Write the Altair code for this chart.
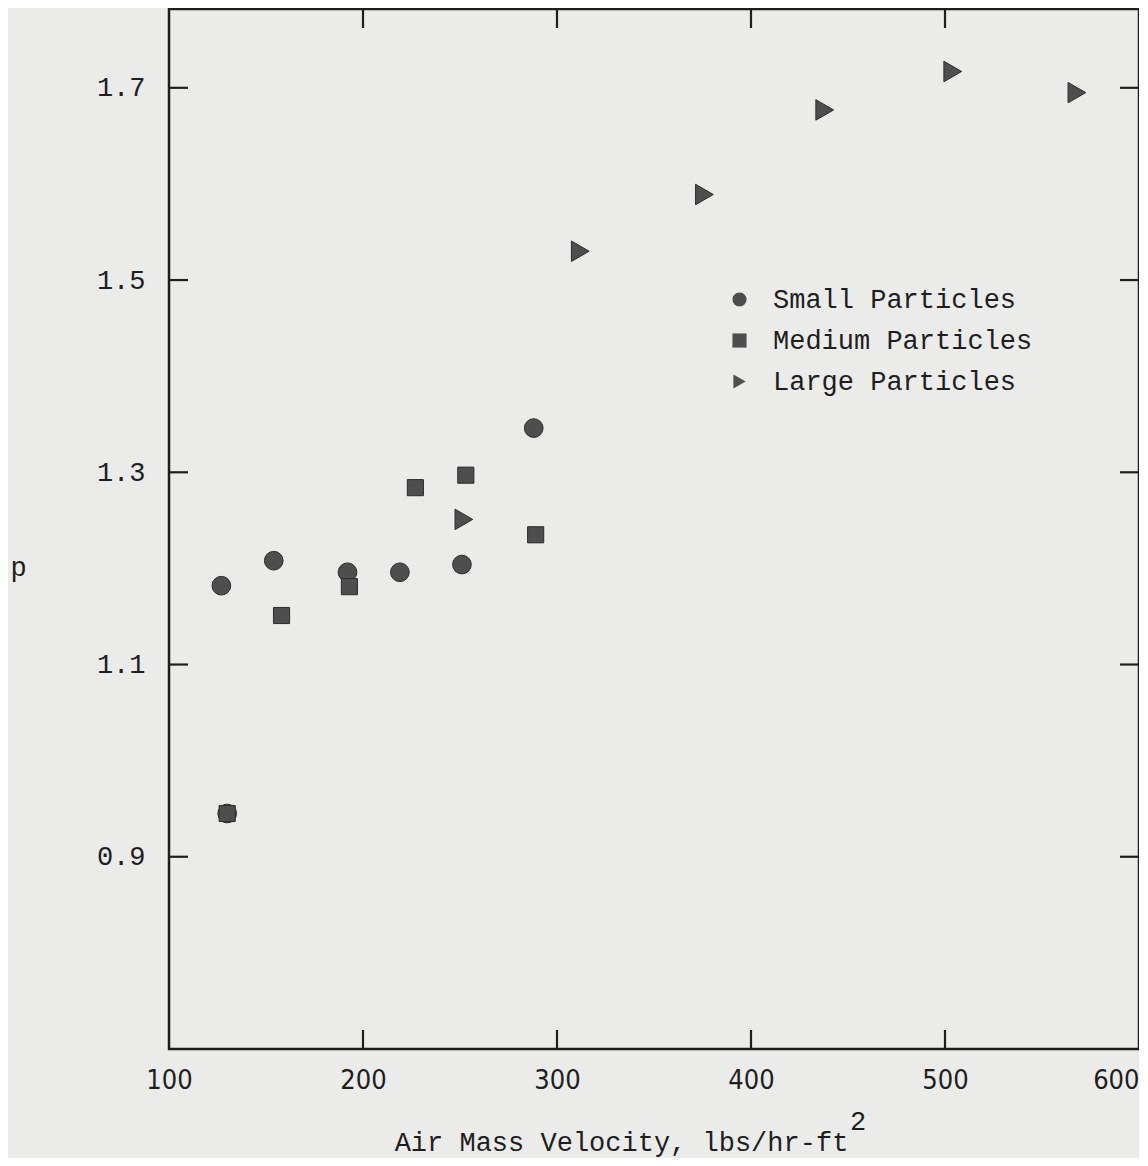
import altair as alt
import pandas as pd

# ---- data ----
categories = ["Small Particles", "Medium Particles", "Large Particles"]
small_x = [127, 130, 154, 192, 219, 251, 288]
small_y = [1.182, 0.945, 1.208, 1.196, 1.196, 1.204, 1.346]
medium_x = [130, 158, 193, 227, 253, 289]
medium_y = [0.945, 1.151, 1.181, 1.284, 1.297, 1.235]
large_x = [252, 312, 376, 438, 504, 568]
large_y = [1.251, 1.530, 1.589, 1.677, 1.717, 1.695]

x_ticks = [200, 300, 400, 500]
x_labels = [100, 200, 300, 400, 500, 600]
y_ticks = [0.9, 1.1, 1.3, 1.5, 1.7]

shapes = ["circle", "square", "triangle-right"]
sizes = [350, 260, 420]

W, H = 970, 1040
TICK = 19
MONO = "Liberation Mono, Courier New, monospace"
NARROW = "Liberation Sans Narrow, DejaVu Sans Condensed, Roboto Condensed, sans-serif"
INK = "#1e1e1e"
FILL = "#4e4e4e"
EDGE = "#2c2c2c"

xt = pd.DataFrame({"x": x_ticks})
yt = pd.DataFrame({"y": y_ticks})

xscale = alt.Scale(domain=[100, 600], nice=False, zero=False)
yscale = alt.Scale(domain=[0.7, 1.782], nice=False, zero=False)
shape_scale = alt.Scale(domain=categories, range=shapes)

xaxis = alt.Axis(
    values=x_labels, ticks=False, domain=False, grid=False, labelFlush=False,
    labelAlign={"condition": {"test": "datum.value >= 600", "value": "right"}, "value": "center"},
    labelFont=NARROW, labelFontSize=27, labelColor=INK, labelPadding=18,
    title="Air Mass Velocity, lbs/hr-ft", titleFont=MONO, titleFontSize=27,
    titleFontWeight="normal", titleColor=INK, titleX=452, titleY=101,
    titleBaseline="alphabetic", titleAlign="center", titleAnchor="start",
)
yaxis = alt.Axis(
    values=y_ticks, format=".1f", ticks=False, domain=False, grid=False,
    labelFont=MONO, labelFontSize=27, labelColor=INK, labelPadding=24,
    title="p", titleFont=MONO, titleFontSize=27, titleFontWeight="normal",
    titleColor=INK, titleAngle=0, titleX=-151, titleY=558,
    titleAlign="center", titleBaseline="middle",
)
legend = alt.Legend(
    title=None, orient="none", legendX=557, legendY=277,
    labelFont=MONO, labelFontSize=27, labelColor=INK, labelLimit=0,
    labelOffset=20, rowPadding=13, symbolSize=200,
    symbolFillColor=FILL, symbolStrokeColor=EDGE,
    symbolStrokeWidth=1, padding=0)

layers = []
tick_style = dict(color=INK, strokeWidth=2.2)
layers.append(alt.Chart(xt).mark_rule(**tick_style).encode(
    x=alt.X("x:Q", scale=xscale, axis=xaxis), y=alt.value(H), y2=alt.value(H - TICK)))
layers.append(alt.Chart(xt).mark_rule(**tick_style).encode(
    x=alt.X("x:Q", scale=xscale), y=alt.value(0), y2=alt.value(TICK)))
layers.append(alt.Chart(yt).mark_rule(**tick_style).encode(
    y=alt.Y("y:Q", scale=yscale, axis=yaxis), x=alt.value(0), x2=alt.value(TICK)))
layers.append(alt.Chart(yt).mark_rule(**tick_style).encode(
    y=alt.Y("y:Q", scale=yscale), x=alt.value(W - TICK), x2=alt.value(W)))

for cat, xs, ys, sz in zip(categories, [small_x, medium_x, large_x],
                           [small_y, medium_y, large_y], sizes):
    d = pd.DataFrame({"Type": [cat] * len(xs), "x": xs, "y": ys})
    layers.append(alt.Chart(d).mark_point(filled=True, opacity=1, fill=FILL,
                                          stroke=EDGE, strokeWidth=1, size=sz).encode(
        x=alt.X("x:Q", scale=xscale),
        y=alt.Y("y:Q", scale=yscale),
        shape=alt.Shape("Type:N", scale=shape_scale, legend=legend),
    ))

layers.append(alt.Chart(pd.DataFrame({"t": ["2"]})).mark_text(
    font=MONO, fontSize=27, color=INK, align="left", baseline="alphabetic").encode(
    text="t:N", x=alt.value(681), y=alt.value(1121)))

chart = alt.layer(*layers).properties(
    width=W, height=H,
    background="#ebebea",
    padding={"left": 161, "top": 1, "right": 0, "bottom": 109},
    autosize=alt.AutoSizeParams(type="none"),
).configure_view(stroke=INK, strokeWidth=2.5)

chart.save("out.html", embed_options={"renderer": "svg", "actions": False})
